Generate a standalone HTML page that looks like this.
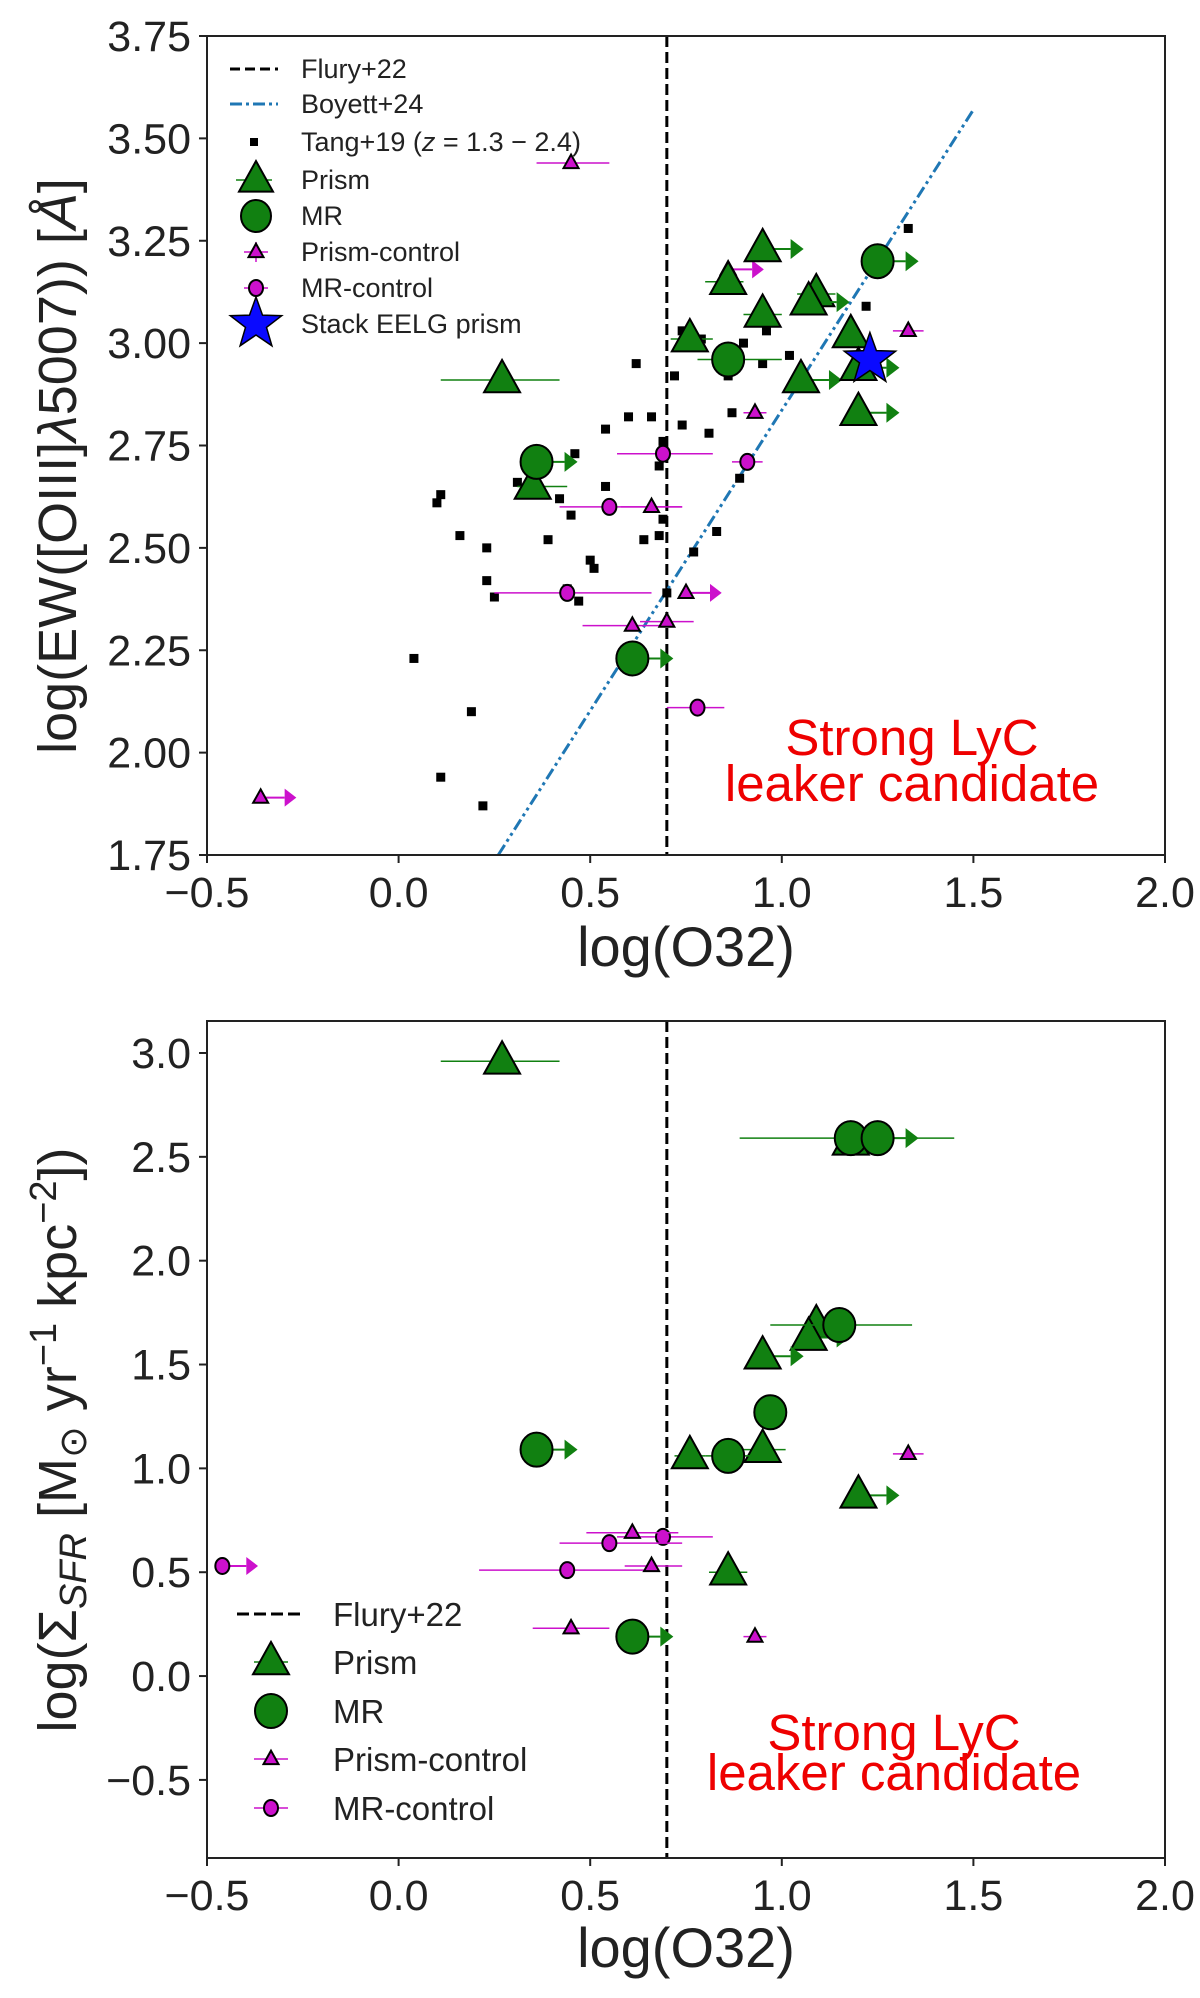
<!DOCTYPE html>
<html><head><meta charset="utf-8"><style>
body{margin:0;background:#fff}
svg{display:block;font-family:"Liberation Sans",sans-serif}
</style></head><body>
<svg id="fig" width="1200" height="1998" viewBox="0 0 1200 1998">
<g id="top"></g>
<g id="bot"></g>
</svg>
<script>
// ---------- DATA ----------
const xTicks=[-0.5,0,0.5,1.0,1.5,2.0];
const xTickLabels=["\u22120.5","0.0","0.5","1.0","1.5","2.0"];
const topYTicks=[1.75,2.0,2.25,2.5,2.75,3.0,3.25,3.5,3.75];
const topYTickLabels=["1.75","2.00","2.25","2.50","2.75","3.00","3.25","3.50","3.75"];
const botYTicks=[-0.5,0,0.5,1.0,1.5,2.0,2.5,3.0];
const botYTickLabels=["\u22120.5","0.0","0.5","1.0","1.5","2.0","2.5","3.0"];
const tangX=[1.33,1.22,0.74,0.79,0.96,0.90,1.02,0.95,0.62,0.86,0.72,0.87,0.66,0.60,0.74,0.81,0.54,0.69,0.68,0.46,0.31,0.54,0.89,0.11,0.10,0.42,0.45,0.69,0.16,0.83,0.68,0.64,0.39,0.23,0.77,0.50,0.51,0.23,0.25,0.44,0.47,0.70,0.04,0.19,0.11,0.22];
const tangY=[3.28,3.09,3.03,3.01,3.03,3.00,2.97,2.95,2.95,2.92,2.92,2.83,2.82,2.82,2.80,2.78,2.79,2.76,2.70,2.73,2.66,2.65,2.67,2.63,2.61,2.62,2.58,2.57,2.53,2.54,2.53,2.52,2.52,2.50,2.49,2.47,2.45,2.42,2.38,2.40,2.37,2.39,2.23,2.10,1.94,1.87];
// [x, y, errLo, errHi, isLowerLimit]
const topPrism=[[0.27,2.91,0.11,0.42,0],[0.35,2.65,0.31,0.44,0],[0.76,3.01,0.71,0.82,0],[0.86,3.15,0.80,0.90,0],[0.95,3.23,0.95,0.95,1],[0.95,3.07,0.90,1.00,0],[1.09,3.12,1.04,1.14,0],[1.07,3.10,1.07,1.07,1],[1.18,3.02,1.15,1.21,0],[1.05,2.91,1.05,1.05,1],[1.20,2.94,1.20,1.20,1],[1.20,2.83,1.20,1.20,1]];
const topMR=[[0.36,2.71,0.36,0.36,1],[0.86,2.96,0.78,1.00,0],[1.25,3.20,1.25,1.25,1],[0.61,2.23,0.61,0.61,1]];
const topPC=[[0.45,3.44,0.36,0.55,0],[0.86,3.18,0.86,0.86,1],[0.93,2.83,0.90,0.96,0],[1.33,3.03,1.29,1.37,0],[0.66,2.60,0.58,0.74,0],[0.61,2.31,0.48,0.72,0],[0.70,2.32,0.63,0.77,0],[0.75,2.39,0.75,0.75,1],[-0.36,1.89,-0.36,-0.36,1]];
const topMC=[[0.69,2.73,0.57,0.82,0],[0.91,2.71,0.87,0.95,0],[0.55,2.60,0.42,0.74,0],[0.44,2.39,0.25,0.66,0],[0.78,2.11,0.70,0.85,0]];
const starPt=[1.23,2.96];
const boyettX=[0.26,1.50];
const boyettY=[1.75,3.57];
const botPrism=[[0.27,2.96,0.11,0.42,0],[1.18,2.57,1.18,1.18,0],[1.09,1.69,1.09,1.09,0],[1.07,1.63,1.07,1.07,1],[0.95,1.54,0.95,0.95,1],[0.76,1.06,0.72,0.80,0],[0.95,1.09,0.89,1.01,0],[1.20,0.87,1.20,1.20,1],[0.86,0.50,0.81,0.91,0]];
const botMR=[[1.18,2.59,0.89,1.45,0],[1.25,2.59,1.25,1.25,1],[1.15,1.69,0.97,1.34,0],[0.97,1.27,0.93,1.01,0],[0.86,1.06,0.80,0.92,0],[0.36,1.09,0.36,0.36,1],[0.61,0.19,0.61,0.61,1]];
const botPC=[[0.61,0.69,0.49,0.73,0],[0.66,0.53,0.59,0.74,0],[0.45,0.23,0.35,0.55,0],[0.93,0.19,0.90,0.96,0],[1.33,1.07,1.29,1.37,0]];
const botMC=[[0.69,0.67,0.57,0.82,0],[0.55,0.64,0.42,0.74,0],[0.44,0.51,0.21,0.66,0],[-0.46,0.53,-0.46,-0.46,1]];

const NS="http://www.w3.org/2000/svg";
function el(p,t,a,txt){const e=document.createElementNS(NS,t);for(const k in a)e.setAttribute(k,a[k]);if(txt!=null)e.textContent=txt;p.appendChild(e);return e;}
const X0=207,X1=1165;
function xs(v){return X0+(v+0.5)/2.5*(X1-X0);}
function mkY(top,bot,vTop,vBot){return v=>top+(vTop-v)/(vTop-vBot)*(bot-top);}
const GREEN="#118011",MAG="#cc11cc";
function tri(g,x,y,s,fill,name){const h=s*0.9;const e=el(g,"polygon",{points:`${x},${y-h*0.62} ${x-s/2},${y+h*0.38} ${x+s/2},${y+h*0.38}`,fill:fill,stroke:"#000","stroke-width":2});return e;}
function circ(g,x,y,rx,ry,fill,name){const e=el(g,"ellipse",{cx:x,cy:y,rx:rx,ry:ry,fill:fill,stroke:"#000","stroke-width":2});return e;}
function arrow(g,x,y,col,len,sz){el(g,"line",{x1:x,y1:y,x2:x+len,y2:y,stroke:col,"stroke-width":2});el(g,"polygon",{points:`${x+len},${y-sz} ${x+len+sz*1.3},${y} ${x+len},${y+sz}`,fill:col});}
function series(g,ys,arr,kind,name){
  arr.forEach(d=>{const x=xs(d[0]),y=ys(d[1]);const col=(kind=="P"||kind=="M")?GREEN:MAG;
    if(!d[4]&&d[3]>d[2])el(g,"line",{x1:xs(d[2]),y1:y,x2:xs(d[3]),y2:y,stroke:col,"stroke-width":1.5});
    if(d[4])arrow(g,x,y,col,kind=="P"||kind=="M"?28:24,kind=="P"||kind=="M"?10:9);
    if(kind=="P")tri(g,x,y,36,GREEN,name);
    else if(kind=="M")circ(g,x,y,16,17,GREEN,name);
    else if(kind=="PC")tri(g,x,y,15,MAG,name);
    else circ(g,x,y,7,8,MAG,name);
  });
}
function frame(g,top,bot,ys,yt,ytl,xlabBase){
  yt.forEach((v,i)=>{const y=ys(v);el(g,"line",{x1:X0-8,y1:y,x2:X0,y2:y,stroke:"#222","stroke-width":2});
    const t=el(g,"text",{x:X0-16,y:y+15,"text-anchor":"end","font-size":43,fill:"#222"},ytl[i]);});
  xTicks.forEach((v,i)=>{const x=xs(v);el(g,"line",{x1:x,y1:bot,x2:x,y2:bot+8,stroke:"#222","stroke-width":2});
    const t=el(g,"text",{x:x,y:bot+52,"text-anchor":"middle","font-size":43,fill:"#222"},xTickLabels[i]);});
  const xl=el(g,"text",{x:(X0+X1)/2,y:xlabBase,"text-anchor":"middle","font-size":56,fill:"#222"},"log(O32)");
  
  const fr=el(g,"rect",{x:X0,y:top,width:X1-X0,height:bot-top,fill:"none",stroke:"#222","stroke-width":2});
  
}
function flury(g,top,bot){const l=el(g,"line",{x1:xs(0.7),y1:top,x2:xs(0.7),y2:bot,stroke:"#000","stroke-width":3,"stroke-dasharray":"11,5"});}
function redText(g,cx,y1,y2){const t=el(g,"text",{x:cx,y:y1,"text-anchor":"middle","font-size":51,fill:"#ee0000"},"Strong LyC");
  const t2=el(g,"text",{x:cx,y:y2,"text-anchor":"middle","font-size":51,fill:"#ee0000"},"leaker candidate");}

// ---------- TOP ----------
(function(){
  const g=document.getElementById("top");const T=36,B=855;const ys=mkY(T,B,3.75,1.75);
  flury(g,T,B);
  const bl=el(g,"line",{x1:xs(boyettX[0]),y1:ys(boyettY[0]),x2:xs(boyettX[1]),y2:ys(boyettY[1]),stroke:"#1f77b4","stroke-width":3,"stroke-dasharray":"12,4,3,4,3,4"});
  
  tangX.forEach((v,i)=>{const r=el(g,"rect",{x:xs(v)-4.5,y:ys(tangY[i])-4.5,width:9,height:9,fill:"#000"});});
  series(g,ys,topMC,"MC","mr-control-point");
  series(g,ys,topPC,"PC","prism-control-point");
  series(g,ys,topPrism,"P","prism-point");
  series(g,ys,topMR,"M","mr-point");
  const sx=xs(starPt[0]),sy=ys(starPt[1]);let pts=[];for(let i=0;i<10;i++){const r=i%2?11:27;const a=-Math.PI/2+i*Math.PI/5;pts.push((sx+r*Math.cos(a)).toFixed(1)+","+(sy+r*Math.sin(a)).toFixed(1));}
  const st=el(g,"polygon",{points:pts.join(" "),fill:"#0a0aff",stroke:"#000","stroke-width":1.5});
  redText(g,912,755,801);
  frame(g,T,B,ys,topYTicks,topYTickLabels,966);
  const yl=el(g,"text",{transform:"translate(76,466) rotate(-90)","text-anchor":"middle","font-size":54,fill:"#222"});
  
  yl.innerHTML='log(EW([OIII]<tspan font-style="italic">λ</tspan>5007)) [<tspan font-style="italic">Å</tspan>]';
  const lg=el(g,"g",{});
  const rows=[69,104,142,180,216,252,288,324];const tx=301;const fs=27;
  el(lg,"line",{x1:230,y1:rows[0],x2:278,y2:rows[0],stroke:"#000","stroke-width":3,"stroke-dasharray":"10,5"});
  el(lg,"line",{x1:230,y1:rows[1],x2:278,y2:rows[1],stroke:"#1f77b4","stroke-width":3,"stroke-dasharray":"12,4,3,4"});
  el(lg,"rect",{x:250,y:rows[2]-4,width:8,height:8,fill:"#000"});
  el(lg,"line",{x1:236,y1:rows[3],x2:272,y2:rows[3],stroke:GREEN,"stroke-width":1.5});tri(lg,256,rows[3],34,GREEN,'legend-prism-marker');
  circ(lg,256,rows[4],15,16,GREEN,'legend-mr-marker');
  el(lg,"line",{x1:256,y1:rows[5]-10,x2:256,y2:rows[5]+10,stroke:MAG,"stroke-width":1.5});el(lg,"line",{x1:244,y1:rows[5],x2:268,y2:rows[5],stroke:MAG,"stroke-width":1.5});tri(lg,256,rows[5],15,MAG,'legend-prism-control-marker');
  el(lg,"line",{x1:244,y1:rows[6],x2:268,y2:rows[6],stroke:MAG,"stroke-width":1.5});circ(lg,256,rows[6],7,8,MAG,'legend-mr-control-marker');
  let pts2=[];for(let i=0;i<10;i++){const r=i%2?11:27;const a=-Math.PI/2+i*Math.PI/5;pts2.push((256+r*Math.cos(a)).toFixed(1)+","+(rows[7]+r*Math.sin(a)).toFixed(1));}
  el(lg,"polygon",{points:pts2.join(" "),fill:"#0a0aff",stroke:"#000","stroke-width":1.5});
  const labs=["Flury+22","Boyett+24",null,"Prism","MR","Prism-control","MR-control","Stack EELG prism"];
  labs.forEach((l,i)=>{if(l){const t=el(lg,"text",{x:tx,y:rows[i]+9,"font-size":fs,fill:"#222"},l);}});
  const tt=el(lg,"text",{x:tx,y:rows[2]+9,"font-size":fs,fill:"#222"});
  tt.innerHTML='Tang+19 (<tspan font-style="italic">z</tspan> = 1.3 − 2.4)';
})();

// ---------- BOTTOM ----------
(function(){
  const g=document.getElementById("bot");const T=1021,B=1858;const ys=mkY(T,B,3.154,-0.876);
  flury(g,T,B);
  series(g,ys,botMC,"MC","mr-control-point");
  series(g,ys,botPC,"PC","prism-control-point");
  series(g,ys,botPrism,"P","prism-point");
  series(g,ys,botMR,"M","mr-point");
  redText(g,894,1750,1790);
  frame(g,T,B,ys,botYTicks,botYTickLabels,1967);
  const yl=el(g,"text",{transform:"translate(76,1440) rotate(-90)","text-anchor":"middle","font-size":54,fill:"#222"});
  
  yl.innerHTML='log(Σ<tspan font-style="italic" font-size="38" dy="10">SFR</tspan><tspan dy="-10"> [M</tspan><tspan font-size="38" dy="10">⊙</tspan><tspan dy="-10"> yr</tspan><tspan font-size="38" dy="-20">−1</tspan><tspan dy="20"> kpc</tspan><tspan font-size="38" dy="-20">−2</tspan><tspan dy="20">])</tspan>';
  const lg=el(g,"g",{});
  const rows=[1614,1662,1711,1759,1808];const tx=333;const fs=33;
  el(lg,"line",{x1:237,y1:rows[0],x2:304,y2:rows[0],stroke:"#000","stroke-width":3,"stroke-dasharray":"12,5"});
  el(lg,"line",{x1:254,y1:rows[1],x2:288,y2:rows[1],stroke:GREEN,"stroke-width":1.5});tri(lg,271,rows[1],36,GREEN,'legend-prism-marker');
  circ(lg,271,rows[2],16,17,GREEN,'legend-mr-marker');
  el(lg,"line",{x1:254,y1:rows[3],x2:288,y2:rows[3],stroke:MAG,"stroke-width":1.5});tri(lg,271,rows[3],15,MAG,'legend-prism-control-marker');
  el(lg,"line",{x1:254,y1:rows[4],x2:288,y2:rows[4],stroke:MAG,"stroke-width":1.5});circ(lg,271,rows[4],7,8,MAG,'legend-mr-control-marker');
  ["Flury+22","Prism","MR","Prism-control","MR-control"].forEach((l,i)=>{const t=el(lg,"text",{x:tx,y:rows[i]+12,"font-size":fs,fill:"#222"},l);});
})();
</script>
</body></html>
